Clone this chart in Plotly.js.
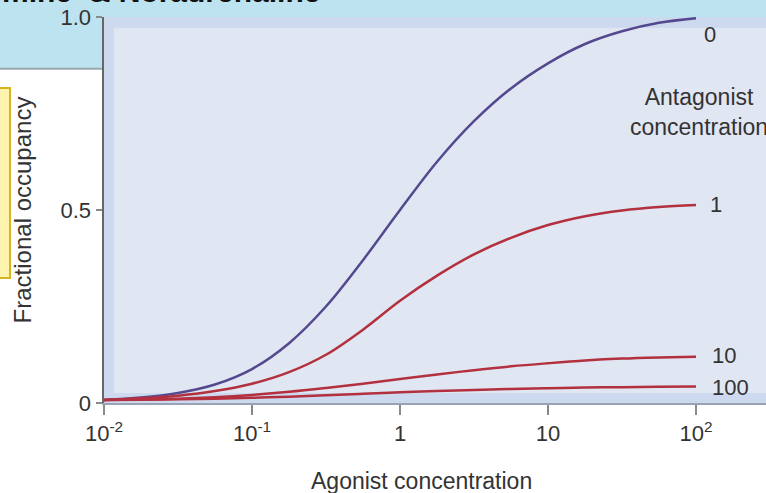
<!DOCTYPE html>
<html>
<head>
<meta charset="utf-8">
<script src="https://cdn.plot.ly/plotly-3.0.1.min.js"></script>
<style>html,body{margin:0;padding:0;background:#fff;}#chart{width:766px;height:493px;}</style>
</head>
<body>
<div id="chart"></div>
<script>
// Agonist concentration (quarter-decade steps from 10^-2 to 10^2)
const agonist = [0.01, 0.0178, 0.0316, 0.0562, 0.1, 0.178, 0.316, 0.562, 1, 1.78, 3.16, 5.62, 10, 17.8, 31.6, 56.2, 100];
// Fractional occupancy, one series per antagonist concentration
const occ0   = [0.008, 0.014, 0.026, 0.048, 0.088, 0.155, 0.250, 0.370, 0.500, 0.625, 0.730, 0.815, 0.880, 0.930, 0.963, 0.985, 0.997];
const occ1   = [0.008, 0.012, 0.019, 0.031, 0.050, 0.080, 0.125, 0.190, 0.265, 0.330, 0.385, 0.428, 0.461, 0.484, 0.499, 0.508, 0.513];
const occ10  = [0.008, 0.009, 0.011, 0.015, 0.021, 0.029, 0.039, 0.050, 0.062, 0.074, 0.085, 0.095, 0.103, 0.110, 0.115, 0.118, 0.120];
const occ100 = [0.008, 0.0085, 0.0095, 0.011, 0.0135, 0.0165, 0.020, 0.024, 0.028, 0.031, 0.034, 0.0365, 0.0385, 0.040, 0.041, 0.042, 0.0425];
const antagonistLabels = ['0', '1', '10', '100'];
const xTickVals = [0.01, 0.1, 1, 10, 100];
const xTickText = ['10<sup>-2</sup>', '10<sup>-1</sup>', '1', '10', '10<sup>2</sup>'];
const yTickVals = [0, 0.5, 1.0];
const yTickText = ['0', '0.5', '1.0'];

const blue = '#54488f';
const red = '#b3303f';
const font = 'Liberation Sans, Arial, sans-serif';
const txt = '#333';

const series = [occ0, occ1, occ10, occ100];
const traces = series.map((ys, i) => ({
  x: agonist, y: ys, type: 'scatter', mode: 'lines',
  line: {color: i === 0 ? blue : red, width: 2.5, shape: 'spline', smoothing: 1},
  hoverinfo: 'skip', showlegend: false, name: antagonistLabels[i]
}));

const lastX = Math.log10(agonist[agonist.length - 1]);
const n = agonist.length - 1;
const annotations = [
  {x: lastX, y: occ0[n], xref: 'x', yref: 'y', text: antagonistLabels[0], showarrow: false, xanchor: 'left', yanchor: 'middle', xshift: 6, yshift: -16, font: {family: font, size: 22, color: txt}},
  {x: lastX, y: occ1[n], xref: 'x', yref: 'y', text: antagonistLabels[1], showarrow: false, xanchor: 'left', yanchor: 'middle', xshift: 12, yshift: 0, font: {family: font, size: 22, color: txt}},
  {x: lastX, y: occ10[n], xref: 'x', yref: 'y', text: antagonistLabels[2], showarrow: false, xanchor: 'left', yanchor: 'middle', xshift: 14, yshift: 1, font: {family: font, size: 22, color: txt}},
  {x: lastX, y: occ100[n], xref: 'x', yref: 'y', text: antagonistLabels[3], showarrow: false, xanchor: 'left', yanchor: 'middle', xshift: 14, yshift: -1, font: {family: font, size: 22, color: txt}},
  {x: lastX, y: 0.753, xref: 'x', yref: 'y', text: 'Antagonist<br>concentration', showarrow: false, xanchor: 'center', yanchor: 'middle', xshift: 3, align: 'center', font: {family: font, size: 23, color: txt}},
  {x: 0.479, y: -0.202, xref: 'paper', yref: 'paper', text: 'Agonist concentration', showarrow: false, xanchor: 'center', yanchor: 'middle', font: {family: font, size: 23, color: txt}},
  {x: -0.157, y: 1.066, xref: 'paper', yref: 'paper', text: '<b>mine  & Noradrenaline</b>', showarrow: false, xanchor: 'left', yanchor: 'middle', font: {family: font, size: 30, color: '#111'}}
];

const shapes = [
  // banner left part
  {type: 'rect', xref: 'paper', yref: 'paper', x0: -0.16, x1: 0, y0: 0.868, y1: 1.07, fillcolor: '#bde3f0', line: {width: 0}, layer: 'below'},
  {type: 'line', xref: 'paper', yref: 'paper', x0: -0.16, x1: 0, y0: 0.866, y1: 0.866, line: {color: '#9aa8ae', width: 2}, layer: 'below'},
  // banner top strip
  {type: 'rect', xref: 'paper', yref: 'paper', x0: 0, x1: 1.0, y0: 1.0, y1: 1.07, fillcolor: '#bde3f0', line: {width: 0}, layer: 'below'},
  // inner panel
  {type: 'rect', xref: 'paper', yref: 'paper', x0: 0.015, x1: 1.0, y0: 0.026, y1: 0.972, fillcolor: '#e1e6f3', line: {width: 0}, layer: 'below'},
  // yellow box
  {type: 'rect', xref: 'paper', yref: 'paper', x0: -0.17, x1: -0.142, y0: 0.324, y1: 0.816, fillcolor: '#fff3b0', line: {color: '#d8b420', width: 2}, layer: 'below'}
];

const layout = {
  width: 766, height: 493,
  margin: {l: 104, r: 0, t: 17, b: 90},
  paper_bgcolor: '#ffffff',
  plot_bgcolor: '#cdd9ee',
  showlegend: false,
  xaxis: {
    type: 'log', range: [-2, 2.473], tickvals: xTickVals, ticktext: xTickText,
    ticks: 'outside', ticklen: 10, tickcolor: '#8a8a8a', tickwidth: 1.5,
    showgrid: false, zeroline: false, showline: true, linecolor: '#9aa3b3', linewidth: 2, mirror: false,
    tickfont: {family: font, size: 22, color: txt}
  },
  yaxis: {
    range: [0, 1], tickvals: yTickVals, ticktext: yTickText,
    ticks: 'outside', ticklen: 6, tickcolor: '#8a8a8a', tickwidth: 1.5,
    showgrid: false, zeroline: false, showline: true, linecolor: '#666', linewidth: 2.5,
    tickfont: {family: font, size: 22, color: txt},
    title: {text: 'Fractional occupancy', font: {family: font, size: 24, color: txt}, standoff: 22}
  },
  shapes: shapes,
  annotations: annotations
};

Plotly.newPlot('chart', traces, layout, {staticPlot: true, displayModeBar: false});
</script>
</body>
</html>
